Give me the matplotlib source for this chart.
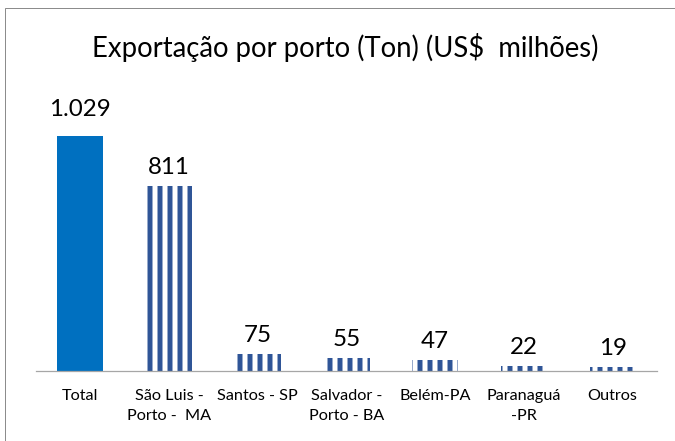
import matplotlib
matplotlib.use("Agg")
import matplotlib.pyplot as plt
from matplotlib.patches import Rectangle

# ── Data ──────────────────────────────────────────────────────────────────
ports = ["Total", "São Luis -\nPorto -  MA", "Santos - SP", "Salvador -\nPorto - BA",
         "Belém-PA", "Paranaguá\n-PR", "Outros"]
values = [1029, 811, 75, 55, 47, 22, 19]
value_labels = ["1.029", "811", "75", "55", "47", "22", "19"]

TOTAL_BLUE = "#0070C0"
STRIPE_BLUE = "#2F5597"

# dpi 60 -> hatch unit is 60 px, '|' gives 6 lines => 10 px stripe period
DPI = 60
plt.rcParams["font.family"] = ["Lato", "DejaVu Sans"]
plt.rcParams["hatch.linewidth"] = 6.0

fig = plt.figure(figsize=(675 / DPI, 441 / DPI), dpi=DPI)
ax = fig.add_axes([36 / 675, 70 / 441, 621 / 675, 274 / 441])

x = range(len(ports))
for i, v in enumerate(values):
    if i == 0:
        ax.bar(i, v, width=0.52, color=TOTAL_BLUE, linewidth=0)
    else:
        ax.bar(i, v, width=0.52, facecolor=STRIPE_BLUE, edgecolor="white",
               hatch="|", linewidth=0)
    off = 16 if i == 0 else 8
    ax.annotate(value_labels[i], (i, v), xytext=(0, off * 72 / DPI),
                textcoords="offset points", ha="center", va="bottom",
                fontsize=29, color="black")

ax.set_xlim(-0.5, len(ports) - 0.5)
ax.set_ylim(0, 1200)
ax.set_xticks(list(x))
ax.set_xticklabels(ports, fontsize=19.5, linespacing=1.5)
ax.tick_params(axis="x", length=0, pad=22)
ax.set_yticks([])
for s in ["top", "right", "left"]:
    ax.spines[s].set_visible(False)
ax.spines["bottom"].set_color("#A6A6A6")
ax.spines["bottom"].set_linewidth(1.5)

fig.text(345 / 675, 1 - 47 / 441, "Exportação por porto (Ton) (US$  milhões)",
         ha="center", va="center", fontsize=33, color="black")

# chart frame (only left and top edges visible in the crop)
fig.add_artist(Rectangle((5.5 / 675, -0.2), 2, 1.2 - 8 / 441,
                         transform=fig.transFigure, fill=False,
                         edgecolor="#8C8C8C", linewidth=1.2))

fig.savefig("out.png", dpi=DPI)
